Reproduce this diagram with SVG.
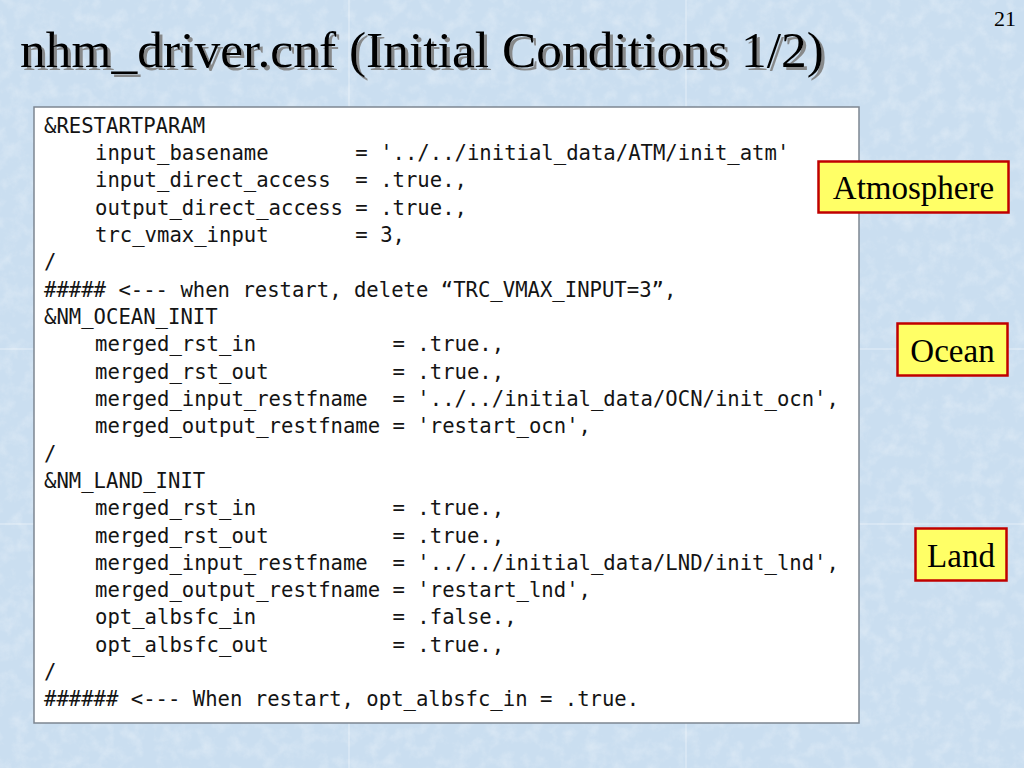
<svg xmlns="http://www.w3.org/2000/svg" width="1024" height="768" viewBox="0 0 1024 768">
<defs>
<filter id="marble" x="0" y="0" width="100%" height="100%">
<feTurbulence type="fractalNoise" baseFrequency="0.07" numOctaves="4" seed="7" result="n"/>
<feColorMatrix in="n" type="matrix" values="0 0 0 0 1  0 0 0 0 1  0 0 0 0 1  0 0 0 1.4 -0.6" />
</filter>
<filter id="shadow" x="-5%" y="-20%" width="110%" height="150%">
<feDropShadow dx="3" dy="3" stdDeviation="0.6" flood-color="#7f7f7f" flood-opacity="0.9"/>
</filter>
<style>
.title{font-family:"Liberation Serif","Times New Roman",serif;font-size:51.5px;fill:#000;}
.code{font-family:"DejaVu Sans Mono","Liberation Mono",monospace;font-size:20.6px;fill:#141414;white-space:pre;}
.lbox{fill:#ffff66;stroke:#c00000;stroke-width:2.5;}
.ltxt{font-family:"Liberation Serif","Times New Roman",serif;font-size:33px;fill:#000;text-anchor:middle;}
.grid{stroke:#ffffff;stroke-opacity:0.5;stroke-width:1;}
</style>
</defs>
<g id="background">
<rect x="0" y="0" width="1024" height="768" fill="#cadef0"/>
<rect x="0" y="0" width="1024" height="768" filter="url(#marble)" opacity="0.4"/>
<line class="grid" x1="349" y1="0" x2="349" y2="768"/>
<line class="grid" x1="686" y1="0" x2="686" y2="768"/>
<line class="grid" x1="0" y1="349" x2="1024" y2="349"/>
<line class="grid" x1="0" y1="524" x2="1024" y2="524"/>
</g>
<g id="title">
<text class="title" x="20" y="67" filter="url(#shadow)">nhm_driver.cnf (Initial Conditions 1/2)</text>
</g>
<g id="page-number">
<text x="1016" y="26" font-family="Liberation Serif, Times New Roman, serif" font-size="22" text-anchor="end" fill="#000">21</text>
</g>
<g id="code-box">
<rect x="34" y="107" width="825" height="616" fill="#ffffff" stroke="#7d8691" stroke-width="1.5"/>
<text class="code" xml:space="preserve"><tspan x="44" y="132.5">&amp;RESTARTPARAM</tspan><tspan x="95" y="159.8">input_basename       = '../../initial_data/ATM/init_atm'</tspan><tspan x="95" y="187.2">input_direct_access  = .true.,</tspan><tspan x="95" y="214.5">output_direct_access = .true.,</tspan><tspan x="95" y="241.8">trc_vmax_input       = 3,</tspan><tspan x="44" y="269.2">/</tspan><tspan x="44" y="296.5">##### &lt;--- when restart, delete “TRC_VMAX_INPUT=3”,</tspan><tspan x="44" y="323.8">&amp;NM_OCEAN_INIT</tspan><tspan x="95" y="351.1">merged_rst_in           = .true.,</tspan><tspan x="95" y="378.5">merged_rst_out          = .true.,</tspan><tspan x="95" y="405.8">merged_input_restfname  = '../../initial_data/OCN/init_ocn',</tspan><tspan x="95" y="433.1">merged_output_restfname = 'restart_ocn',</tspan><tspan x="44" y="460.5">/</tspan><tspan x="44" y="487.8">&amp;NM_LAND_INIT</tspan><tspan x="95" y="515.1">merged_rst_in           = .true.,</tspan><tspan x="95" y="542.5">merged_rst_out          = .true.,</tspan><tspan x="95" y="569.8">merged_input_restfname  = '../../initial_data/LND/init_lnd',</tspan><tspan x="95" y="597.1">merged_output_restfname = 'restart_lnd',</tspan><tspan x="95" y="624.4">opt_albsfc_in           = .false.,</tspan><tspan x="95" y="651.8">opt_albsfc_out          = .true.,</tspan><tspan x="44" y="679.1">/</tspan><tspan x="44" y="706.4">###### &lt;--- When restart, opt_albsfc_in = .true.</tspan></text>
</g>
<g id="connectors"></g>
<g id="label-atmosphere">
<rect class="lbox" x="818.5" y="161.5" width="190" height="51"/>
<text class="ltxt" x="913.5" y="199">Atmosphere</text>
</g>
<g id="label-ocean">
<rect class="lbox" x="897.5" y="323.5" width="110" height="52"/>
<text class="ltxt" x="952.5" y="362">Ocean</text>
</g>
<g id="label-land">
<rect class="lbox" x="915.5" y="528.5" width="91" height="52"/>
<text class="ltxt" x="961" y="567">Land</text>
</g>
</svg>
